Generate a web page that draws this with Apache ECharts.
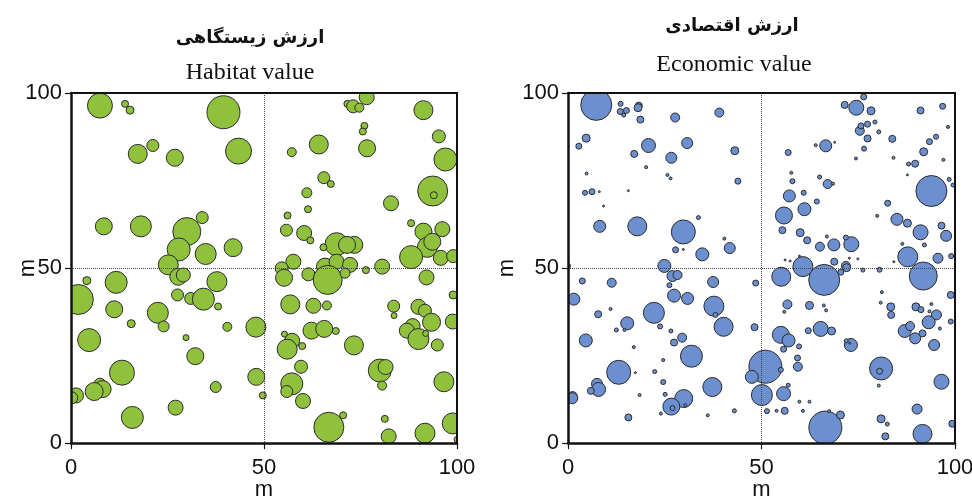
<!DOCTYPE html>
<html>
<head>
<meta charset="utf-8">
<script src="https://cdn.jsdelivr.net/npm/echarts@6/dist/echarts.min.js"></script>
<style>
  html, body { margin: 0; padding: 0; background: #fff; }
  #chart { width: 972px; height: 498px; }
</style>
</head>
<body>
<div id="chart"></div>
<script>
// [x (m), y (m), bubble value]
var habitat = [
  [7.5,96.4,25],[14,96.9,7],[15.3,95.1,8],[39.5,94.5,33],[17.3,82.6,19],[21.2,85,12],[26.9,81.5,17],[43.4,83.4,26],
  [8.5,61.9,17],[18.1,61.9,21],[30,60.4,28],[34,64.4,12],[27.9,55.3,23],[34.9,54,21],[42,55.8,18],[25.2,50.9,20],
  [27.8,47.5,17],[29.1,48,14],[4.1,46.4,8],[11.7,45.9,22],[37.8,46.1,20],[1.9,41,30],[27.6,42.3,12],[31,41.3,12],
  [34.3,41.1,22],[38.1,39,7],[11.2,38.2,17],[22.5,37.2,21],[24,33.3,11],[15.6,34.1,8],[40.5,33.2,9],[47.9,33.1,20],
  [29.8,30.1,6],[4.7,29.4,23],[32.2,24.8,17],[13.2,20.1,25],[7.5,16.8,12],[8.2,15.4,17],[6,14.7,18],[1.3,13.6,15],
  [0.2,12.9,12],[37.5,16,11],[48,18.9,17],[49.7,13.6,7],[27.1,10.1,15],[15.9,7.3,22],
  [66.4,100.2,13],[76.6,98.8,15],[71.6,96.9,7],[73.1,96.2,13],[74.7,95.8,9],[91.3,95.1,19],[76,90.6,7],[75.6,89,7],
  [95.3,87.6,13],[64.2,85.3,19],[57.2,83.1,9],[76.7,84.2,17],[97,81,23],[65.5,75.8,12],[67.3,74,7],[93.7,72,30],
  [94,70.8,7],[61.1,71.5,10],[61.4,66.8,7],[82.9,68.5,15],[56.1,65,7],[55.8,60.8,12],[60.4,60,15],[62,57.9,7],
  [88.1,62.8,7],[91.3,60.4,17],[96.2,61.1,15],[68.8,56.8,23],[73.4,56.6,17],[71.5,56.6,17],[65.4,55.9,7],[92.3,55.9,20],
  [93.6,57.5,17],[88.1,53.1,23],[95.8,52.9,15],[99,53.4,13],[57.6,51.8,15],[54.6,49.9,13],[65.8,50.4,17],[68.8,51.8,15],
  [72.3,50.9,15],[80.6,50.4,15],
  [55.2,47.2,17],[61.5,48.2,13],[66.5,46.6,29],[71,48.5,10],[76.4,49.4,7],[92.1,47.3,15],[99,42.3,8],[56.8,39.6,19],
  [62.8,39.2,15],[66.3,39.3,9],[83.6,39.1,12],[83.7,36.4,6],[90,38.9,15],[91.7,37.8,13],[93.4,34.5,18],[88.5,33.4,15],
  [87,32.1,15],[90,29.7,21],[91.9,31.3,6],[94.9,28,12],[98.9,34.7,15],[62.3,32.1,17],[65.6,32.6,17],[68.6,32,7],
  [55.3,31.1,6],[57.3,29.2,15],[56,26.8,20],[59.9,27.7,7],[73.3,27.9,19],[59.6,21.8,13],[80,20.7,23],[81.5,21.7,15],
  [80.6,16.4,9],[96.6,17.5,20],[57.2,16.9,22],[55.9,14.7,12],[60.1,12,15],[66.8,4.5,30],[70.5,7.9,7],[81.3,6.9,7],
  [82.3,1.9,15],[91.7,2.8,20],[98.9,5.6,21],[100,1,6]
];

var economic = [
  [7.3,96.6,31],[13.6,96.9,5],[13.5,94.7,6],[14.4,93.7,4],[15.1,95,6],[18.3,96.4,7],[18.1,95.8,8],[18.7,92.4,7],
  [27.7,93,9],[39.1,94.4,9],[4.7,87.1,8],[2.8,84.8,6],[20.8,85,14],[30.8,85.7,11],[17.1,82.6,7],[26.7,81.5,11],
  [43.1,83.5,8],[20.2,78.8,3],[4.8,77,3],[25.7,76.6,3],[26.5,75.6,3],[43.9,74.8,6],[4.4,71.5,5],[6.2,71.8,6],
  [8.1,71.8,2],[15.6,72.1,2],[9.2,67.7,2],[8.2,61.9,12],[17.9,61.9,19],[29.8,60.3,24],[33.7,64.4,4],[27.8,55.2,6],
  [29.8,55.3,2],[34.7,53.9,13],[41.8,55.7,11],[40.4,58.4,3],[24.9,50.6,13],[0,50.6,5],
  [27,47.7,11],[28.3,48,9],[26.2,45.1,5],[3.7,46.3,6],[11.3,45.8,9],[37.5,46,11],[48.5,45.7,6],[1.5,41.1,12],
  [27.4,42.1,13],[30.9,41.3,12],[37.7,39.1,20],[38.1,36.6,5],[40.2,33.2,19],[48.2,33.1,7],[7.8,36.8,7],[11,38.3,3],
  [22.2,37.2,21],[15.3,34.2,13],[12.5,32.3,4],[14.6,32.3,3],[23.8,33.3,5],[26.6,32,4],[29.5,30.1,9],[27.4,28.7,7],
  [4.6,29.3,13],[17,27.4,3],[31.9,24.8,22],[24.6,23.7,3],[22.4,20.4,4],[17.4,20.1,2],[13.1,20.2,24],[24.6,17.4,5],
  [7.5,16.9,11],[7.9,15.3,14],[5.9,14.9,7],[1.2,13.4,9],[1.1,12.8,11],[18.5,13.7,3],[25.1,13.9,4],[29.9,12.7,18],
  [26.7,10.4,17],[27,10,5],[30.3,10.8,3],[24,8.4,3],[37.3,16,19],[36.1,7.9,3],[43,9.2,4],[15.6,7.3,7],
  [51,21.8,33],[47.5,18.9,13],[50.1,13.7,21],
  [76.4,98.9,6],[74.5,95.8,15],[71.5,96.6,7],[78.3,94.9,8],[91.1,95,7],[96.8,96.2,6],[75.4,89.2,9],[75.7,90.6,6],
  [77.4,91.1,6],[79.3,91.7,4],[80.3,88.9,4],[77.4,87,7],[83.8,86.9,7],[98.2,90.3,3],[95.1,87.5,5],[93.4,86.1,6],
  [91.9,83.2,8],[66.6,84.9,12],[64,85.1,3],[68.9,85.9,2],[56.9,83,6],[76.5,84.1,5],[74.4,81.3,3],[84.1,81.5,3],
  [88,79.7,4],[89.7,79.8,7],[97,80.9,3],[87.7,76.6,2],[57.7,77.2,3],[58,74.8,5],[65,76,4],[67.1,74,9],
  [68.5,74.1,3],[98.5,75.3,4],[99.5,73.7,4],[93.9,72,31],[60.9,71.5,5],[57.2,70.6,12],[64.3,69,5],[61.1,66.8,13],
  [55.8,65,17],[82.6,68.5,6],[79.9,64.9,3],[85,63.9,12],[87.7,62.8,8],[91.1,60.2,15],[96.5,62.1,7],[97.7,59.2,11],
  [55.4,60.8,7],[60,60.1,8],[61.8,57.9,7],[65.1,56.1,9],[68.7,56.6,12],[73.2,56.8,15],[71.8,58.7,5],[66.9,59,3],
  [86.4,56.9,3],[92.1,56.6,4],[87.8,53.2,20],[95.6,52.8,10],[99,53.4,5],[60.7,50.4,20],[68.8,51.8,7],[71.8,50.6,9],
  [56.1,52.3,2],[57.4,52,2],[59.8,53.4,2],[72.7,52.8,2],[74.9,52.6,2],[84.2,51.8,2],
  [55.1,47.5,19],[66.2,46.6,31],[70.5,48.8,6],[72,50.1,8],[76.2,49.4,4],[80.5,49.5,5],[91.8,47.7,28],[81.1,43.1,3],
  [98.9,42.3,7],[56.7,39.6,9],[55.9,37.5,3],[62.4,39.3,8],[66.1,39.3,3],[66.7,37.9,3],[80.8,40.1,3],[83.4,38.9,8],
  [83.5,36.6,7],[89.9,38.9,8],[91.2,38.1,6],[93.9,39.7,3],[93.4,37.6,3],[95.2,36.6,10],[93.2,34.5,13],[96.1,32.7,3],
  [98.9,34.7,5],[87,32,13],[88.4,33.4,9],[91.6,31.3,7],[89.7,29.9,11],[94.6,28,11],[55,30.9,17],[57,29.3,13],
  [55.7,26.8,6],[59.7,27.6,5],[62.1,32.1,6],[65.3,32.6,15],[68.1,32,8],[73.1,28,13],[71.9,29.2,4],[72.8,28.5,2],
  [59.3,24.3,6],[59.4,21.8,9],[55,20.9,5],[80.9,21.3,23],[80.5,20.5,6],[80.3,16.4,3],[96.5,17.5,15],[55.7,14.1,14],
  [56.9,16.5,4],[59.8,11.8,3],[62.4,11.8,3],[51.4,9.1,5],[53.9,9.2,3],[56,9.2,7],[60.7,9.2,3],[66.5,4.4,33],
  [70.4,8,8],[67.5,9.1,3],[80.9,6.9,8],[82.5,5.4,4],[82,1.9,7],[90.2,9.7,10],[91.6,2.6,19],[99.3,5.5,7]
];

var titlesFa = ['ارزش زیستگاهی', 'ارزش اقتصادی'];
var titlesEn = ['Habitat value', 'Economic value'];

var grids = [
  { left: 71, top: 93, width: 386, height: 350 },
  { left: 568, top: 93, width: 387, height: 350 }
];

var chart = echarts.init(document.getElementById('chart'));

function makeAxis(idx, isY) {
  return {
    type: 'value',
    gridIndex: idx,
    min: 0,
    max: 100,
    interval: 50,
    z: 10,
    name: 'm',
    nameLocation: 'middle',
    nameMoveOverlap: false,
    nameGap: isY ? (idx === 0 ? 32 : 50) : 36,
    nameRotate: isY ? 90 : 0,
    nameTextStyle: { fontSize: 22, color: '#111', fontFamily: 'Liberation Sans' },
    axisLine: { show: true, onZero: false, lineStyle: { color: '#111', width: 2.5 } },
    axisTick: { show: true, length: 6, lineStyle: { color: '#111', width: 1.2 } },
    axisLabel: { fontSize: 22, color: '#111', margin: isY ? 9 : 14, fontFamily: 'Liberation Sans' },
    splitLine: { show: true, lineStyle: { type: 'dotted', color: '#444', width: 1 } }
  };
}

// top / right frame lines drawn above the bubbles
function frameAxis(idx, pos) {
  return {
    type: 'value', gridIndex: idx, position: pos, min: 0, max: 100, z: 10,
    axisLine: { show: true, onZero: false, lineStyle: { color: '#111', width: 2 } },
    axisTick: { show: false }, axisLabel: { show: false }, splitLine: { show: false }
  };
}

// white bands round each plot so bubbles look clipped at the frame
var masks = [];
grids.forEach(function (g) {
  var b = 14;
  var fill = { fill: '#fff' };
  masks.push(
    { type: 'rect', z: 5, shape: { x: g.left - b, y: g.top - 11, width: g.width + 2 * b, height: 11 }, style: fill, silent: true },
    { type: 'rect', z: 5, shape: { x: g.left - b, y: g.top + g.height, width: g.width + 2 * b, height: b }, style: fill, silent: true },
    { type: 'rect', z: 5, shape: { x: g.left - b, y: g.top - 11, width: b, height: g.height + 11 + b }, style: fill, silent: true },
    { type: 'rect', z: 5, shape: { x: g.left + g.width, y: g.top - 11, width: b, height: g.height + 11 + b }, style: fill, silent: true }
  );
});

var option = {
  backgroundColor: '#fff',
  animation: false,
  title: [
    { text: titlesFa[0], left: 245, top: 24, textAlign: 'center',
      textStyle: { fontSize: 18, fontWeight: 'bold', color: '#111', fontFamily: 'DejaVu Sans' } },
    { text: titlesEn[0], left: 245, top: 56, textAlign: 'center',
      textStyle: { fontSize: 24, fontWeight: 'normal', color: '#111', fontFamily: 'Liberation Serif' } },
    { text: titlesFa[1], left: 727, top: 12, textAlign: 'center',
      textStyle: { fontSize: 18, fontWeight: 'bold', color: '#111', fontFamily: 'DejaVu Sans' } },
    { text: titlesEn[1], left: 729, top: 48, textAlign: 'center',
      textStyle: { fontSize: 24, fontWeight: 'normal', color: '#111', fontFamily: 'Liberation Serif' } }
  ],
  grid: grids.map(function (g) {
    return { left: g.left, top: g.top, width: g.width, height: g.height, outerBoundsMode: 'none', show: false };
  }),
  graphic: { elements: masks },
  xAxis: [makeAxis(0, false), makeAxis(1, false), frameAxis(0, 'top'), frameAxis(1, 'top')],
  yAxis: [makeAxis(0, true), makeAxis(1, true), frameAxis(0, 'right'), frameAxis(1, 'right')],
  series: [
    {
      name: titlesEn[0],
      type: 'scatter',
      xAxisIndex: 0,
      yAxisIndex: 0,
      data: habitat,
      symbolSize: function (v) { return v[2]; },
      itemStyle: { color: '#8fc13c', borderColor: '#2b2b2b', borderWidth: 1, opacity: 1 }
    },
    {
      name: titlesEn[1],
      type: 'scatter',
      xAxisIndex: 1,
      yAxisIndex: 1,
      data: economic,
      symbolSize: function (v) { return v[2]; },
      itemStyle: { color: '#6c8fd0', borderColor: '#2b2b2b', borderWidth: 1, opacity: 1 }
    }
  ]
};

chart.setOption(option);
</script>
</body>
</html>
